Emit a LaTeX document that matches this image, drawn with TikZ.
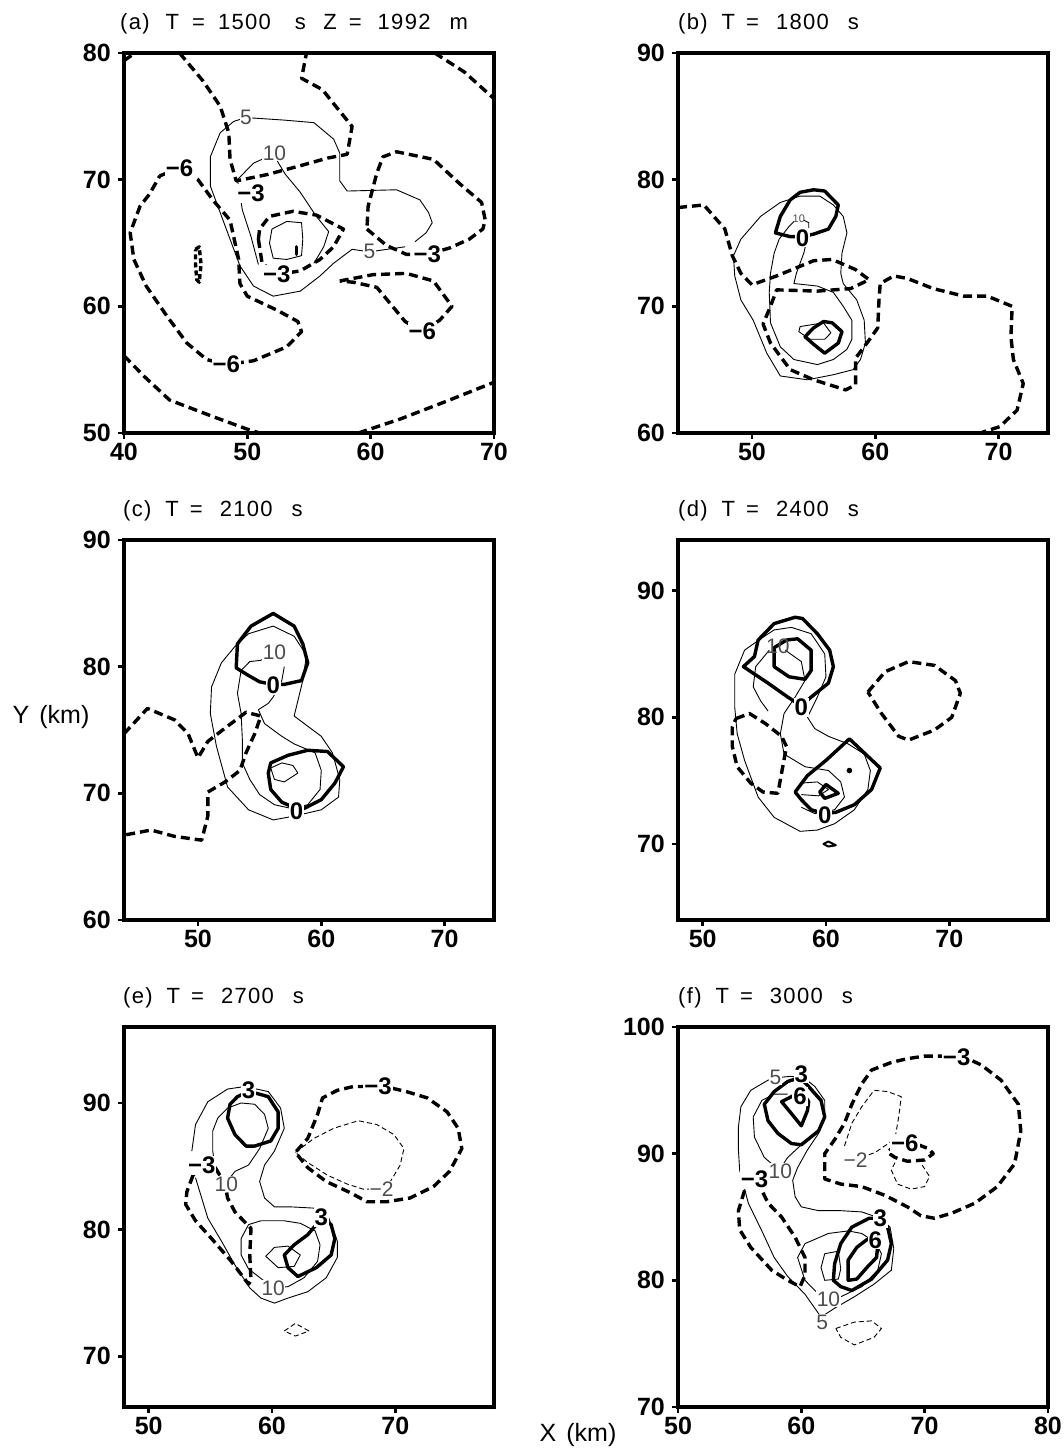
\documentclass[tikz,border=0pt]{standalone}
\usepackage{fontspec}
\setmainfont{Liberation Sans}
\newfontfamily\ttlfont[LetterSpace=6]{Liberation Sans}
\begin{document}
\begin{tikzpicture}[x=1pt,y=1pt,
 frm/.style={line width=3.6pt},
 tck/.style={line width=2.6pt},
 bs/.style={line width=3.4pt, line join=round, line cap=round},
 bd/.style={line width=3.4pt, dash pattern=on 9pt off 5pt, line join=round},
 ts/.style={line width=0.9pt, line join=round},
 td/.style={line width=0.9pt, dash pattern=on 5pt off 3pt, line join=round},
 bl/.style={font=\bfseries\fontsize{24}{24}\selectfont, fill=white, inner sep=1pt},
 tl/.style={font=\fontsize{21}{21}\selectfont, fill=white, inner sep=0.5pt, text=black!70},
 tkl/.style={font=\bfseries\fontsize{25}{25}\selectfont, inner sep=0pt},
 ttl/.style={font=\ttlfont\fontsize{22}{22}\selectfont, anchor=base west, inner sep=0pt},
 axl/.style={font=\fontsize{25}{25}\selectfont, inner sep=0pt}]
\useasboundingbox (0,0) rectangle (1063,1451);

% titles and axis labels
\node[ttl] (ta) at (120,1421) {(a)\hspace{16pt}T\hspace{13pt}=\hspace{13pt}1500\hspace{24pt}s\hspace{17.5pt}Z\hspace{12pt}=\hspace{16pt}1992\hspace{19pt}m};
\node[ttl] (tb) at (678,1421) {(b)\hspace{14pt}T\hspace{11pt}=\hspace{17pt}1800\hspace{19pt}s};
\node[ttl] (tc) at (123,934) {(c)\hspace{14pt}T\hspace{11pt}=\hspace{17pt}2100\hspace{19pt}s};
\node[ttl] (td) at (678,934) {(d)\hspace{14pt}T\hspace{11pt}=\hspace{17pt}2400\hspace{19pt}s};
\node[ttl] (te) at (123,447) {(e)\hspace{14pt}T\hspace{11pt}=\hspace{17pt}2700\hspace{19pt}s};
\node[ttl] (tf) at (678,447) {(f)\hspace{14pt}T\hspace{11pt}=\hspace{17pt}3000\hspace{19pt}s};
\node[axl] (ylab) at (51,734) {Y\hspace{10pt}(km)};
\node[axl] (xlab) at (578,16) {X\hspace{10pt}(km)};

%================ panel (a)
\begin{scope}[x=12.33pt,y=12.667pt,shift={(-369.2pt,384.65pt)}]
\draw[bd] (40,79.4) -- (40.9,80);
\draw[bd] (44.5,80) -- (46.4,77.8) -- (47.8,75.8) -- (48.5,73.7) -- (48.6,71.6) -- (49.1,69.9) -- (51.6,70.4) -- (54.3,71.1) -- (56.5,71.7) -- (58.1,72) -- (58.5,74.2) -- (57,76) -- (56.1,77.1) -- (54.4,78) -- (54.8,80);
\draw[bd] (65.2,80) -- (67.6,78.5) -- (70,76.4);
\draw[bd] (59.7,66.1) -- (61.3,64.8) -- (62.9,64.1) -- (64.6,64.1) -- (66.4,64.6) -- (68,65.3) -- (69.1,66.1) -- (69.3,66.8) -- (69,68.2) -- (67.2,69.7) -- (65.1,71.6) -- (62.1,72.2) -- (61,71.8) -- (60.5,70.5) -- (59.8,67.9) -- cycle;
\draw[bd] (50.9,65.3) -- (51,66.1) -- (51.8,67.1) -- (53.7,67.5) -- (55.6,67.2) -- (57.8,66.1) -- (57,64.7) -- (55.9,63.7) -- (54.3,62.8) -- (52.4,62.5) -- (51.2,63.4) -- cycle;
\draw[bd] (42.9,70.3) -- (44.5,70.9) -- (46,70) -- (47.2,68.4) -- (48.6,66.8) -- (49.3,63.7) -- (49.4,61.8) -- (50,60.8) -- (52.4,59.7) -- (54.1,58.8) -- (54.4,58) -- (53.2,56.8) -- (50.5,55.7) -- (48.3,55.4) -- (46.7,55.8) -- (45.1,57.1) -- (43.5,59.2) -- (41.8,61.6) -- (40.8,63.7) -- (40.5,65.8) -- (41.3,67.9) -- (42.1,68.9) -- cycle;
\draw[bd,dash pattern=on 5pt off 3pt] (45.8,64.5) -- (46.1,64.7) -- (46.25,63.3) -- (46.1,61.9) -- (45.9,62.1) -- (45.8,63.3) -- cycle;
\draw[bd] (40,56.1) -- (41.6,54.5) -- (43.7,52.6) -- (47.2,51.3) -- (50,50.3) -- (51,50);
\draw[bd] (59,50) -- (62.4,51.1) -- (66.4,52.6) -- (70,54);
\draw[bd] (57.5,62) -- (60.2,62.5) -- (62.9,62.6) -- (65.1,62) -- (66.6,60) -- (65.6,58.9) -- (64.2,58) -- (62.8,58.8) -- (60.5,61.5) -- (58.6,61.9) -- cycle;
\draw[ts] (63.6,65.1) -- (64.5,65.8) -- (65,66.6) -- (64.7,67.4) -- (64,68.4) -- (62.1,69.2) -- (58.1,69.1) -- (57.5,69.9) -- (57.5,72.1) -- (57,73.2) -- (55.4,74.5) -- (53,74.7) -- (49.9,74.9) -- (48.9,74.6) -- (47.8,73.7) -- (47,71.8) -- (47,69.5) -- (47.8,67.4) -- (48.6,65.3) -- (49.4,63.2) -- (50.5,61.6) -- (52.1,60.8) -- (54.3,61.2) -- (55.9,62.4) -- (57,63.4) -- (58.5,64.5) -- (59.9,64.3) -- (62.8,64.7);
\draw[ts] (50.9,63.3) -- (50.3,65.5) -- (49.6,67.6) -- (49.2,70) -- (50.5,71.3) -- (52.1,72) -- (53.1,70.4) -- (54.3,69) -- (55.6,67.1) -- (56.6,65.9) -- (56.2,64.7) -- (55.4,63.4);
\draw[ts] (52,66.1) -- (53.2,66.7) -- (54.4,66.6) -- (54.5,65.3) -- (54.4,64) -- (53.2,63.7) -- (52.1,63.8) -- (51.8,65) -- cycle;
\draw[bs] (54,64.7) -- (54,64.1);
\node[bl] (a1) at (50.3,68.9) {−3};
\node[bl] (a2) at (64.6,64.1) {−3};
\node[bl] (a3) at (52.4,62.5) {−3};
\node[bl] (a4) at (44.5,70.9) {−6};
\node[bl] (a5) at (48.3,55.4) {−6};
\node[bl] (a6) at (64.2,58) {−6};
\node[tl] (a7) at (49.9,74.9) {5};
\node[tl] (a8) at (59.9,64.35) {5};
\node[tl] (a9) at (52.2,72.1) {10};
\draw[frm] (40,50) rectangle (70,80);
\foreach \v in {40,50,60,70} {\draw[tck] (\v,50) -- ++(0pt,-6pt); \node[tkl,below=10pt] (ax\v) at (\v,50) {\v};}
\foreach \v in {50,60,70,80} {\draw[tck] (40,\v) -- ++(-6pt,0pt); \node[tkl,left=13pt] (ay\v) at (40,\v) {\v};}
\end{scope}

%================ panel (b)
\begin{scope}[x=12.33pt,y=12.667pt,shift={(135.48pt,257.98pt)}]
\draw[bd] (44,77.8) -- (46.1,78) -- (47.8,76.1) -- (48.4,74) -- (49.1,72.6) -- (50,71.7) -- (52,72.4) -- (55,73.6) -- (56.5,73.7) -- (58.4,72.9) -- (59.5,72.1) -- (58,71.4) -- (55.3,71.2) -- (52,71.3) -- (51.5,70) -- (50.9,68.6) -- (51.5,67.1) -- (53.1,65) -- (55,64.2) -- (57.6,63.4) -- (58.4,63.8) -- (58.4,65.9) -- (59.4,67.2) -- (60.2,68.3) -- (60.3,70.5) -- (60.4,71.8) -- (61.5,72.4) -- (62.6,72.2) -- (64.7,71.4) -- (67.2,70.8) -- (69.1,70.8) -- (71.1,70) -- (71,67.6) -- (71.2,65.8) -- (72,63.9) -- (71.5,61.8) -- (70.1,60.5) -- (68.5,60);
\draw[ts] (48.5,74) -- (49.1,75.3) -- (50.7,77.1) -- (52.3,78.2) -- (53.9,78.7) -- (55.5,78.7) -- (56.6,78) -- (57.4,77.1) -- (57.7,75.8) -- (57.3,74.2) -- (57.2,72.6) -- (57.4,71.8) -- (58.5,70.5) -- (59.1,68.9) -- (59.2,67.1) -- (58.8,65.8) -- (58.2,65) -- (56.6,64.6) -- (54.5,64.2) -- (52.3,64.5) -- (51.2,66.3) -- (50.1,68.9) -- (49.1,70.5) -- (48.6,72.4) -- cycle;
\draw[ts] (54.2,76.8) -- (54.6,76.6) -- (54.6,75.8) -- (54.2,74.2) -- (53.6,72.6) -- (53.4,71.8) -- (55.3,71.6) -- (56.6,71.1) -- (57.4,70) -- (58.1,68.9) -- (58.1,67.4) -- (57.7,66.6) -- (56.6,65.8) -- (55.3,65.4) -- (53.4,65.8) -- (52.3,66.8) -- (51.5,68.7) -- (51.4,71.1) -- (51.5,72.6) -- (51.8,74.2) -- (52.2,75.3) -- (53,76.3) -- (53.4,76.7);
\draw[ts] (53.9,68.4) -- (55.8,68.7) -- (56.4,67.9) -- (55.9,67.4) -- (54.7,67.4) -- (53.8,68) -- cycle;
\draw[bs] (51.9,75.8) -- (52.3,77.1) -- (53.1,78.4) -- (53.9,79) -- (55,79.2) -- (55.9,79.1) -- (57,78) -- (56.8,77.1) -- (56.2,76.1) -- (55,75.7) -- (54.1,75.5) -- (53.1,75.5) -- cycle;
\draw[bs] (54.3,67.6) -- (55,68.3) -- (55.8,68.8) -- (56.5,68.7) -- (57.3,68) -- (57,67.1) -- (55.9,66.3) -- (55,67) -- cycle;
\node[tl,font=\fontsize{11}{11}\selectfont,fill=none] (b2) at (53.8,76.9) {10};
\node[bl] (b1) at (54.1,75.4) {0};
\draw[frm] (44,60) rectangle (74,90);
\foreach \v in {50,60,70} {\draw[tck] (\v,60) -- ++(0pt,-6pt); \node[tkl,below=10pt] (bx\v) at (\v,60) {\v};}
\foreach \v in {60,70,80,90} {\draw[tck] (44,\v) -- ++(-6pt,0pt); \node[tkl,left=13pt] (by\v) at (44,\v) {\v};}
\end{scope}

%================ panel (c)
\begin{scope}[x=12.33pt,y=12.667pt,shift={(-418.52pt,-229.02pt)}]
\draw[bd] (44,74.7) -- (45.9,76.7) -- (48.1,75.8) -- (49.2,74.7) -- (50,72.8) -- (50.8,74.1) -- (52.4,75.3) -- (53.9,76.4) -- (55.1,76.1) -- (54.6,74.7) -- (53.9,73.2) -- (53.4,71.8) -- (52.2,70.9) -- (50.8,70.1) -- (50.8,68.2) -- (50.3,66.3) -- (48.1,66.6) -- (46.2,67.1) -- (44,66.7);
\draw[ts] (54.1,82.6) -- (56.1,83.2) -- (57.8,82.4) -- (58.8,80.9) -- (58.5,78.9) -- (57.8,76.1) -- (60,74.5) -- (60.9,73.2) -- (61.5,71.1) -- (61.4,69.7) -- (60,68.7) -- (57.8,68.2) -- (56.1,67.9) -- (54.1,68.7) -- (52.4,70.5) -- (51.5,73.7) -- (51,76.3) -- (51.1,78.4) -- (51.9,80.3) -- (53,81.6) -- cycle;
\draw[ts] (57,80) -- (56.8,78.9) -- (56.1,77.6) -- (55.7,77.1) -- (54.9,76.6) -- (55.4,75.5) -- (56.8,74.5) -- (57.8,73.9) -- (59.5,73.2) -- (60,71.8) -- (59.9,70.3) -- (58.9,69.1) -- (57.6,68.8) -- (56.2,69.1) -- (55,69.9) -- (54.2,71.1) -- (53.6,72.4) -- (53.6,74.2) -- (53.5,76.3) -- (53.2,77.9) -- (53.5,79.7) -- (54.2,80.4) -- (55.1,80.5) -- (56.1,81);
\draw[ts] (55.9,72) -- (56.8,72.4) -- (57.7,72.2) -- (58.1,71.6) -- (57,70.9) -- (56.2,71.1) -- cycle;
\draw[bs] (53.1,79.9) -- (53.2,81.8) -- (54.3,83.2) -- (56.1,84.2) -- (57.8,83.2) -- (58.5,81.8) -- (58.9,80.3) -- (58.4,78.9) -- (57,78.6) -- (56.1,78.6) -- (55,78.8) -- (54.1,79.3) -- cycle;
\draw[bs] (55.9,72.4) -- (57.3,73) -- (58.9,73.4) -- (60.5,73.3) -- (61.8,72.1) -- (61.1,70.8) -- (60,69.5) -- (58.6,68.8) -- (58,68.8) -- (56.8,69.3) -- (55.9,70.3) -- (55.7,71.6) -- cycle;
\node[tl] (c3) at (56.2,81.1) {10};
\node[bl] (c1) at (56.1,78.5) {0};
\node[bl] (c2) at (58,68.6) {0};
\draw[frm] (44,60) rectangle (74,90);
\foreach \v in {50,60,70} {\draw[tck] (\v,60) -- ++(0pt,-6pt); \node[tkl,below=10pt] (cx\v) at (\v,60) {\v};}
\foreach \v in {60,70,80,90} {\draw[tck] (44,\v) -- ++(-6pt,0pt); \node[tkl,left=13pt] (cy\v) at (44,\v) {\v};}
\end{scope}

%================ panel (d)
\begin{scope}[x=12.33pt,y=12.667pt,shift={(86.16pt,-279.69pt)}]
\draw[bd] (52.7,79.9) -- (53.8,80.3) -- (55.1,79.5) -- (56.4,78.5) -- (56.8,77.7) -- (56.4,75.6) -- (56.1,74) -- (54.9,74.1) -- (53.9,74.8) -- (52.8,76.1) -- (52.4,77.7) -- (52.4,79.2) -- cycle;
\draw[bd] (63.4,82) -- (64.8,83.6) -- (66.7,84.4) -- (68.8,84.1) -- (70.5,82.9) -- (70.9,81.9) -- (70.2,80) -- (68.8,79) -- (66.7,78.2) -- (65.9,78.5) -- (64.5,80.3) -- cycle;
\draw[ts] (54.7,86.2) -- (53.4,85.3) -- (52.6,83.4) -- (52.6,80.8) -- (52.8,78.7) -- (53.4,76.6) -- (54.5,73.7) -- (55.8,72.1) -- (57.9,71) -- (59.3,71.1) -- (60.7,71.6) -- (62.3,72.7) -- (63.4,74.3) -- (63.6,75.8) -- (63.1,77.1) -- (61.8,77.9) -- (60.2,78.5) -- (59.1,79.1) -- (58.5,80) -- (59.3,81.6) -- (60,83.2) -- (59.9,85) -- (58.8,86.6) -- (57.2,87.1) -- (55.8,86.9) -- cycle;
\draw[ts] (56.7,85.3) -- (58,84.4) -- (58.3,82.9) -- (57.5,81.6) -- (56.6,80.3) -- (56.3,78.7) -- (56.6,77.1) -- (58.3,76.1) -- (60.2,75.8) -- (61.2,74.9) -- (61.5,73.7) -- (60.7,72.7) -- (59.1,72.4) -- (58,72.9);
\draw[ts] (55.4,85.3) -- (54.3,84) -- (54.1,82.4) -- (54.7,81.3) -- (55.3,80.5);
\draw[ts] (57.9,74.8) -- (59.3,74.9) -- (60.2,74.3) -- (59.4,73.8) -- (58,73.9);
\draw[bs] (53.3,84) -- (54.2,84.8) -- (54.5,86.1) -- (55.8,87.4) -- (57.5,87.9) -- (58.1,87.8) -- (59.3,86.6) -- (60.3,85.3) -- (60.6,84) -- (60.2,82.7) -- (58.8,81.6) -- (58,80.9) -- (56.9,81.6) -- (55.3,82.7) -- cycle;
\draw[bs] (55.8,85.5) -- (56.8,86.1) -- (57.7,86.2) -- (58.8,85.3) -- (58.8,83.7) -- (58.3,83) -- (57,83.2) -- (55.8,84) -- cycle;
\draw[bs] (57.5,74.1) -- (58.5,75.4) -- (60,76.6) -- (61.9,78.3) -- (64.4,76) -- (63.7,74.3) -- (62.3,73.1) -- (60.8,72.5) -- (59.9,72.4) -- (58.8,72.7) -- (58,73.5) -- cycle;
\draw[bs] (59.5,74.1) -- (60,74.7) -- (61,74) -- (59.9,73.6) -- cycle;
\draw[bs,line width=2pt] (59.8,70) -- (60.2,70.2) -- (60.8,69.9) -- (60.2,69.8) -- cycle;
\fill (61.9,75.8) circle (2.8pt);
\node[tl,fill=none] (d3) at (56.1,85.6) {10};
\node[bl] (d1) at (58,80.8) {0};
\node[bl] (d2) at (59.9,72.3) {0};
\draw[frm] (48,64) rectangle (78,94);
\foreach \v in {50,60,70} {\draw[tck] (\v,64) -- ++(0pt,-6pt); \node[tkl,below=10pt] (dx\v) at (\v,64) {\v};}
\foreach \v in {70,80,90} {\draw[tck] (48,\v) -- ++(-6pt,0pt); \node[tkl,left=13pt] (dy\v) at (48,\v) {\v};}
\end{scope}

%================ panel (e)
\begin{scope}[x=12.33pt,y=12.667pt,shift={(-467.84pt,-792.02pt)}]
\draw[bd] (67.7,91.3) -- (66.6,91.3) -- (65.3,91) -- (64.1,90.4) -- (63.7,89.1) -- (62.9,87.2) -- (61.9,86.1) -- (62.9,84.9) -- (64.4,83.8) -- (66.4,82.9) -- (67.7,82.2) -- (69.3,82.2) -- (71.2,82.5) -- (73.1,83.4) -- (74.4,84.6) -- (75.4,86.4) -- (75.1,88) -- (74.2,89.3) -- (72.6,90.4) -- (70.9,90.9) -- (69.6,91.2) -- cycle;
\draw[td] (61.9,86.1) -- (63.4,87.2) -- (65,88) -- (67,88.6) -- (68.5,88.3) -- (69.9,87.5) -- (70.7,86.4) -- (70.4,85.1) -- (69.6,83.8) -- (68.8,83.2) -- (67.4,83.2) -- (66.1,83.6) -- (64.5,84.3) -- (62.9,85.3) -- cycle;
\draw[td] (61,72) -- (61.9,72.6) -- (63,72) -- (61.9,71.6) -- cycle;
\draw[bd] (53.6,84.3) -- (53.1,83) -- (53,82) -- (53.8,80.7) -- (55.1,79.3) -- (56.7,77.5) -- (58.1,75.7) -- (58.3,76) -- (58.2,78) -- (58.3,80.1) -- (57,81.4) -- (56.4,82.5) -- (56.2,83.6) -- (55.4,84.9) -- (54.3,85.1) -- cycle;
\draw[ts] (53.5,86.2) -- (53.8,88.3) -- (54.8,90.1) -- (56.4,91.1) -- (57.8,91.3) -- (59.7,90.9) -- (60.7,89.6) -- (61,88) -- (60.2,86.2) -- (59.4,85.1) -- (59,83.8) -- (59.4,82.5) -- (60.2,81.8) -- (61.5,81.8) -- (63.4,81.7) -- (64.5,81.2) -- (65.3,79.1) -- (65.3,77.8) -- (64.4,76.2) -- (62.9,75.1) -- (61.3,74.6) -- (60.2,74.2) -- (59.1,74.6) -- (58.2,75.4) -- (57,77.2) -- (55.9,79.1) -- (54.8,80.9) -- (53.8,84.1);
\draw[ts] (57,84.6) -- (58.1,85.1) -- (59,86.4) -- (59.7,88) -- (59.4,89.1) -- (58.6,89.9) -- (57.5,90) -- (56.4,89.6) -- (55.6,88.8) -- (55.2,87.8) -- (55.2,86.2) -- (55.4,84.7) -- (56.2,83.6) -- cycle;
\draw[ts] (61.3,75.5) -- (62.6,76.2) -- (63.7,77.5) -- (63.9,78.8) -- (63.5,79.9) -- (62.3,80.5) -- (61,80.7) -- (59.1,80.7) -- (58.1,80.4) -- (57.5,79.3) -- (57.5,78) -- (58.1,76.9) -- (58.9,76.3) -- (60.1,75.4) -- cycle;
\draw[ts] (59.5,77.9) -- (60.2,78.6) -- (61.3,78.7) -- (62.3,78) -- (61.8,77.1) -- (60.5,77) -- cycle;
\draw[bs] (58.6,90.8) -- (59.7,90.5) -- (60.5,89.3) -- (60.5,88) -- (59.9,87) -- (58.6,86.6) -- (57.9,86.6) -- (57,87.5) -- (56.4,88.8) -- (56.6,89.9) -- (57.2,90.5) -- (58.1,90.9) -- cycle;
\draw[bs] (64.8,80.4) -- (65.1,79.3) -- (64.8,78) -- (63.6,77) -- (62.1,76.3) -- (61.3,77) -- (61,78) -- (61.8,78.8) -- (62.9,79.6) -- (63.6,80.4) -- (64,80.9) -- cycle;
\node[bl] (e1) at (68.6,91.3) {−3};
\node[bl] (e2) at (54.3,85.1) {−3};
\node[bl] (e3) at (58.1,91) {3};
\node[bl] (e4) at (64,81) {3};
\node[tl] (e5) at (68.9,83.2) {−2};
\node[tl] (e6) at (56.3,83.6) {10};
\node[tl] (e7) at (60.1,75.4) {10};
\draw[frm] (48,66) rectangle (78,96);
\foreach \v in {50,60,70} {\draw[tck] (\v,66) -- ++(0pt,-6pt); \node[tkl,below=10pt] (ex\v) at (\v,66) {\v};}
\foreach \v in {70,80,90} {\draw[tck] (48,\v) -- ++(-6pt,0pt); \node[tkl,left=13pt] (ey\v) at (48,\v) {\v};}
\end{scope}

%================ panel (f)
\begin{scope}[x=12.33pt,y=12.667pt,shift={(61.5pt,-842.69pt)}]
\draw[bd] (71.8,97.7) -- (70,97.7) -- (68.6,97.5) -- (67.3,97.2) -- (65.7,96.6) -- (64.9,95.5) -- (64.1,93.9) -- (63.5,92.4) -- (62.7,91.1) -- (61.9,90) -- (61.9,88) -- (63.2,87.6) -- (64.9,87.4) -- (66.8,86.7) -- (68.6,85.8) -- (69.7,85.1) -- (70.8,84.9) -- (72.2,85.3) -- (74.1,86.1) -- (75.9,87.4) -- (77.3,89.2) -- (77.8,91.8) -- (77.6,93.9) -- (76.2,95.8) -- (74.6,97) -- (73.5,97.5) -- (72.7,97.6) -- cycle;
\draw[bd] (69.5,90.7) -- (70.3,90.4) -- (70.7,90) -- (70,89.5) -- (68.6,89.4) -- (67.6,89.7) -- (67,90.1) -- (67.6,90.7) -- (68.5,90.8) -- cycle;
\draw[td] (63.5,90.6) -- (64.1,92.4) -- (64.9,93.7) -- (65.9,95) -- (67,94.9) -- (68.1,94.5) -- (67.9,92.9) -- (67.6,91.2) -- (66.9,90.7) -- (66,90.1) -- (64.6,89.6);
\draw[td] (67.6,89.3) -- (67.3,88.7) -- (67.8,87.6) -- (68.9,87.2) -- (70,87.4) -- (70.4,88.2) -- (69.8,89.1);
\draw[td] (62.8,76.2) -- (64.3,76.7) -- (65.7,76.8) -- (66.5,76.2) -- (65.9,75.5) -- (64.3,74.9) -- (63.2,75.5) -- cycle;
\draw[bd] (55.4,87.1) -- (54.9,85.5) -- (55,84) -- (55.9,82.6) -- (57.6,80.8) -- (58.9,80) -- (59.9,79.5) -- (60.3,80.4) -- (60.3,81.8) -- (59.5,83.4) -- (58.4,85) -- (57.3,86.1) -- (56.8,87.1) -- (56.2,88) -- cycle;
\draw[ts] (57.3,95.8) -- (55.9,95) -- (55.1,93.7) -- (54.9,92.1) -- (54.9,90.3) -- (55,88.7) -- (55.7,86.1) -- (56.8,83.9) -- (57.8,81.8) -- (58.9,80.3) -- (60.3,78.9) -- (61.6,77.1) -- (62.7,77.8) -- (64.3,78.7) -- (65.9,79.7) -- (67.3,80.8) -- (67.5,82.5) -- (67.2,84.2) -- (66.4,84.9) -- (64.9,85.4) -- (63.2,85.5) -- (61.4,85.5) -- (60,85.8) -- (59.5,86.6) -- (59.3,87.9) -- (59.7,88.9) -- (60.5,90.3) -- (61.4,91.6) -- (61.9,92.9) -- (61.9,94.2) -- (61.1,95.3) -- (60.2,96) -- (59.1,96.1) -- (58,96) -- cycle;
\draw[ts] (58.9,94.7) -- (57.8,94.7) -- (56.8,94.2) -- (56.1,92.9) -- (56.2,91.3) -- (57,89.7) -- (58.2,88.7) -- (58.9,89.7) -- (60,90.7);
\draw[ts] (62.1,78.4) -- (61.1,79.2) -- (60.3,80) -- (59.7,81.8) -- (60.3,82.9) -- (62.2,83.7) -- (63.8,83.9) -- (64.9,83.7) -- (66,83) -- (66.5,82.1) -- (66.2,80.8) -- (64.9,79.5) -- (63.2,78.7) -- cycle;
\draw[ts] (61.9,82.1) -- (63,82.3) -- (63.2,80.9) -- (63,80.1) -- (61.9,80) -- (61.6,81) -- cycle;
\draw[bs] (60.5,95.4) -- (61.6,94.2) -- (61.9,92.9) -- (61.4,91.8) -- (60,90.7) -- (59.2,90.8) -- (58.1,91.6) -- (57.3,92.6) -- (57,93.9) -- (57.8,94.9) -- (58.9,95.7) -- (59.9,96) -- cycle;
\draw[bs] (59.4,94.6) -- (58.4,94.1) -- (59,93.4) -- (60,92.2) -- (60.5,93.4) -- (60.6,94.1) -- (60.2,94.7);
\draw[bs] (65.5,84.9) -- (64.1,84.2) -- (63.2,82.9) -- (62.7,81.3) -- (62.6,80) -- (63.2,79.5) -- (64.1,79.2) -- (65.7,80.1) -- (67,81.6) -- (67.3,82.9) -- (67,84.2) -- (66.4,84.9) -- cycle;
\draw[bs] (65.3,83.2) -- (64.5,82.6) -- (63.8,81.6) -- (63.8,80) -- (64.5,80.1) -- (65.4,81.1) -- (66.1,81.8) -- (66.2,82.7) -- (66,83.3) -- cycle;
\node[tl] (f9) at (57.9,96) {5};
\node[tl] (f10) at (61.7,76.7) {5};
\node[tl] (f11) at (58.3,88.6) {10};
\node[tl] (f12) at (62.2,78.5) {10};
\node[tl] (f13) at (64.4,89.5) {−2};
\node[bl] (f1) at (72.6,97.6) {−3};
\node[bl] (f2) at (68.4,90.8) {−6};
\node[bl] (f3) at (56.2,88) {−3};
\node[bl] (f4) at (60,96.3) {3};
\node[bl] (f5) at (59.9,94.5) {6};
\node[bl] (f6) at (66.4,84.9) {3};
\node[bl] (f7) at (66,83.2) {6};
\draw[frm] (50,70) rectangle (80,100);
\foreach \v in {50,60,70,80} {\draw[tck] (\v,70) -- ++(0pt,-6pt); \node[tkl,below=10pt] (fx\v) at (\v,70) {\v};}
\foreach \v in {70,80,90,100} {\draw[tck] (50,\v) -- ++(-6pt,0pt); \node[tkl,left=13pt] (fy\v) at (50,\v) {\v};}
\end{scope}
\end{tikzpicture}
\end{document}
